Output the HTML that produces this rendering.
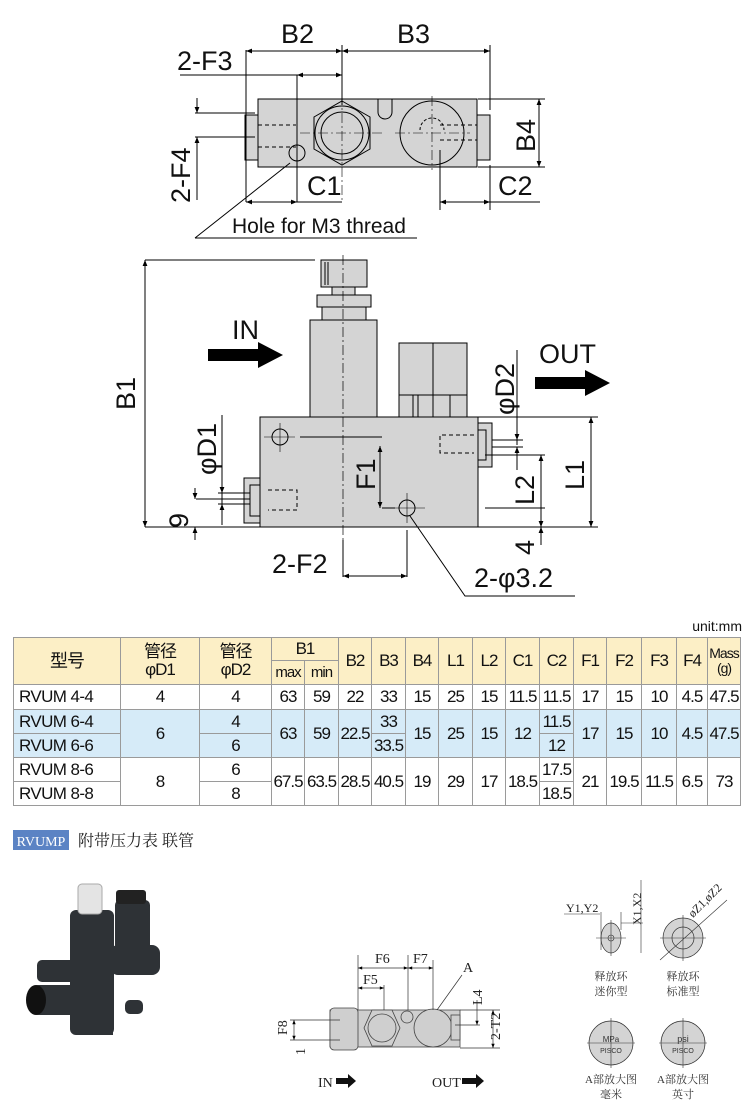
<!DOCTYPE html>
<html><head><meta charset="utf-8">
<style>
body{margin:0;width:750px;height:1106px;background:#fff;position:relative;overflow:hidden;font-family:"Liberation Sans","Noto Sans CJK SC",sans-serif;}
svg{position:absolute;left:0;top:0}
table{position:absolute;left:13px;top:637px;border-collapse:collapse;font-size:17px;table-layout:fixed;}
td{border:1px solid #9a9a9a;text-align:center;padding:0;line-height:1.05;letter-spacing:-1px;color:#111;white-space:nowrap;overflow:hidden}
tr.h td{background:#fcefc6}
tr.b td{background:#d6ebf8}
.l{text-align:left;padding-left:5px;letter-spacing:-0.6px}
</style></head><body>
<svg width="750" height="1106" viewBox="0 0 750 1106" font-family="Liberation Sans, sans-serif">
<defs>
<marker id="a" viewBox="0 0 10 10" refX="10" refY="5" markerWidth="8" markerHeight="6" orient="auto-start-reverse"><path d="M0,1 L10,5 L0,9 z" fill="#000"/></marker>
</defs>
<g stroke="#000" stroke-width="1" fill="none">
<rect x="258" y="99" width="219" height="68" fill="#d4d4d4"/>
<rect x="245" y="115" width="13" height="45" fill="#d4d4d4"/>
<rect x="477" y="115" width="13" height="45" fill="#d4d4d4"/>
<polygon points="342,101 370,117 370,149 342,165 314,149 314,117" fill="#d4d4d4"/>
<circle cx="342" cy="133" r="27" fill="#d4d4d4"/>
<circle cx="342" cy="133" r="21" fill="#d4d4d4"/>
<circle cx="432" cy="133" r="32" fill="#d4d4d4"/>
<path d="M420,130 A12,12 0 0 1 444,130" stroke-dasharray="3,2"/>
<path d="M378,99 L378,112 A7,7 0 0 0 392,112 L392,99"/>
<circle cx="297" cy="153" r="8" fill="#d4d4d4"/>
<path d="M258,125 H296 M258,147 H296" stroke-dasharray="4,3"/>
<path d="M440,125 H477 M440,140 H477" stroke-dasharray="4,3"/>
<path d="M342,95 V200 M300,133 H385 M432,96 V170 M395,133 H470" stroke-width="0.6" stroke-dasharray="10,3,2,3"/>
<path d="M246,50 V202 M342,45 V105 M490,45 V110 M297,75 V202 M440,150 V210 M490,165 V210"/>
<path d="M246,51 H342" marker-start="url(#a)" marker-end="url(#a)"/>
<path d="M342,51 H490" marker-start="url(#a)" marker-end="url(#a)"/>
<path d="M180,75 H342 M297,75 H342" /><path d="M322,75 H297" marker-end="url(#a)"/><path d="M320,75 H342" marker-end="url(#a)"/>
<path d="M195,113 H255 M195,137 H255"/>
<path d="M197,98 V113" marker-end="url(#a)"/><path d="M197,200 V137" marker-end="url(#a)"/>
<path d="M478,99 H545 M478,167 H545"/>
<path d="M539,99 V167" marker-start="url(#a)" marker-end="url(#a)"/>
<path d="M246,202 H297" marker-start="url(#a)" marker-end="url(#a)"/>
<path d="M440,202 H490" marker-start="url(#a)" marker-end="url(#a)"/>
<path d="M490,202 H540 M297,202 H342"/>
<path d="M195,238 L290,163 M195,238 H417"/>
<rect x="321" y="260" width="46" height="27" fill="#d4d4d4"/>
<path d="M325,262 V285 M328,262 V285"/>
<rect x="332" y="287" width="23" height="8" fill="#d4d4d4"/>
<rect x="317" y="295" width="54" height="12" fill="#d4d4d4"/>
<rect x="322" y="307" width="44" height="13" fill="#d4d4d4"/>
<rect x="310" y="320" width="67" height="97" fill="#d4d4d4"/>
<rect x="399" y="343" width="68" height="74" fill="#d4d4d4"/>
<path d="M399,395 H467 M413,395 V417 M418,395 V417 M450,395 V417 M433,343 V417"/>
<rect x="260" y="417" width="218" height="110" fill="#d4d4d4"/>
<rect x="244" y="478" width="16" height="45" fill="#d4d4d4"/>
<rect x="250" y="485" width="10" height="31" fill="#d4d4d4"/>
<rect x="478" y="423" width="14" height="44" fill="#d4d4d4"/>
<rect x="478" y="430" width="8" height="30" fill="#d4d4d4"/>
<path d="M268,490 H297 V510 H268" stroke-dasharray="4,3"/>
<path d="M474,435 H440 V453 H474" stroke-dasharray="4,3"/>
<circle cx="280" cy="437" r="8" fill="#d4d4d4"/>
<circle cx="407" cy="508" r="8" fill="#d4d4d4"/>
<path d="M343,255 V548" stroke-width="0.7" stroke-dasharray="10,3,2,3"/>
<path d="M264,437 H295 M280,423 V452 M392,508 H425 M407,493 V523" stroke-width="0.6"/>
<path d="M145,260 H315 M145,527 H250 M200,527 H260"/>
<path d="M145,260 V527" marker-start="url(#a)" marker-end="url(#a)"/>
<path d="M300,437 H382 M382,508 H395"/>
<path d="M380,446 V508" marker-start="url(#a)" marker-end="url(#a)"/>
<path d="M222,415 V525 M218,493 H250 M218,504 H250 M196,499 H250"/>
<path d="M222,477 V493" marker-end="url(#a)"/><path d="M222,520 V504" marker-end="url(#a)"/>
<path d="M195,488 V499" marker-end="url(#a)"/><path d="M195,540 V527" marker-end="url(#a)"/>
<path d="M492,440 H523 M492,447 H523 M517,350 V445 M517,453 V470"/>
<path d="M517,420 V440" marker-end="url(#a)"/><path d="M517,470 V447" marker-end="url(#a)"/>
<path d="M478,417 H598 M478,527 H598 M485,455 H545 M485,508 H545"/>
<path d="M591,417 V527" marker-start="url(#a)" marker-end="url(#a)"/>
<path d="M541,455 V527" marker-start="url(#a)" marker-end="url(#a)"/>
<path d="M541,545 V527" marker-end="url(#a)"/>
<path d="M343,577 V540 M407,530 V577"/>
<path d="M343,576 H407" marker-start="url(#a)" marker-end="url(#a)"/>
<path d="M410,516 L465,596 H575"/>
</g>
<g fill="#000" stroke="none">
<polygon points="208,349 258,349 258,342 283,355 258,368 258,361 208,361"/>
<polygon points="535,377 585,377 585,370 610,383 585,396 585,389 535,389"/>
</g>
<g font-size="27" fill="#111">
<text x="281" y="43">B2</text>
<text x="397" y="43">B3</text>
<text x="177" y="70">2-F3</text>
<text x="307" y="195">C1</text>
<text x="498" y="195">C2</text>
<text x="232" y="339">IN</text>
<text x="539" y="363">OUT</text>
<text x="272" y="573">2-F2</text>
<text x="474" y="587">2-φ3.2</text>
<text transform="translate(190,203) rotate(-90)">2-F4</text>
<text transform="translate(535,152) rotate(-90)">B4</text>
<text transform="translate(135,410) rotate(-90)">B1</text>
<text transform="translate(216,475) rotate(-90)">φD1</text>
<text transform="translate(188,528) rotate(-90)">9</text>
<text transform="translate(375,490) rotate(-90)">F1</text>
<text transform="translate(514,415) rotate(-90)">φD2</text>
<text transform="translate(534,505) rotate(-90)">L2</text>
<text transform="translate(584,490) rotate(-90)">L1</text>
<text transform="translate(534,555) rotate(-90)">4</text>
</g>
<text x="232" y="233" font-size="21" fill="#111">Hole for M3 thread</text>
<text x="742" y="631" font-size="14" text-anchor="end" fill="#111">unit:mm</text>
<rect x="13" y="830" width="56" height="20" fill="#5b83c4"/>
<text x="41" y="846" font-size="14" fill="#fff" text-anchor="middle" font-family="Liberation Serif, serif">RVUMP</text>
<text x="78" y="846" font-size="16" fill="#222" font-family="Liberation Serif, Noto Serif CJK SC, serif">附带压力表 联管</text>
<g fill="#2e3236">
<rect x="70" y="910" width="44" height="125" rx="6"/>
<rect x="37" y="960" width="58" height="22" rx="5"/>
<rect x="29" y="985" width="60" height="30" rx="10"/>
<rect x="115" y="900" width="35" height="50" rx="5"/>
<rect x="110" y="945" width="50" height="30" rx="8"/>
<rect x="88" y="1000" width="25" height="35"/>
<rect x="125" y="1000" width="18" height="14" rx="5"/>
</g>
<ellipse cx="36" cy="1000" rx="10" ry="15" fill="#111"/>
<rect x="78" y="884" width="24" height="30" rx="4" fill="#e4e4e4" stroke="#aaa"/>
<rect x="116" y="890" width="30" height="14" rx="3" fill="#222"/>
<g stroke="#444" stroke-width="0.8" fill="#cfcfcf">
<rect x="330" y="1010" width="130" height="37"/>
<rect x="330" y="1008" width="28" height="42" rx="4"/>
<polygon points="372,1010 392,1010 400,1028 392,1046 372,1046 364,1028"/>
<circle cx="382" cy="1028" r="14"/>
<circle cx="407" cy="1017" r="6"/>
<circle cx="433" cy="1028" r="19"/>
<rect x="451" y="1015" width="9" height="25"/>
</g>
<g stroke="#333" stroke-width="0.7" fill="none">
<path d="M290,1020 H340 M290,1040 H340 M358,955 V1010 M384,985 V1010 M408,955 V1010 M433,960 V1010 M460,1010 H500 M460,1048 H500 M455,1025 H480"/>
<path d="M358,968 H408" marker-start="url(#a)" marker-end="url(#a)"/>
<path d="M408,968 H433" marker-start="url(#a)" marker-end="url(#a)"/>
<path d="M358,988 H384" marker-start="url(#a)" marker-end="url(#a)"/>
<path d="M294,1020 V1040" marker-start="url(#a)" marker-end="url(#a)"/>
<path d="M493,1010 V1048" marker-start="url(#a)" marker-end="url(#a)"/>
<path d="M477,1000 V1025" marker-end="url(#a)"/>
<path d="M437,1010 L462,975"/>
</g>
<g font-size="14" fill="#222" font-family="Liberation Serif, serif">
<text x="375" y="963">F6</text><text x="413" y="963">F7</text><text x="363" y="984">F5</text>
<text x="463" y="972">A</text>
<text transform="translate(287,1035) rotate(-90)">F8</text>
<text transform="translate(305,1055) rotate(-90)">1</text>
<text transform="translate(482,1005) rotate(-90)">L4</text>
<text transform="translate(500,1040) rotate(-90)">2-T2</text>
<text x="318" y="1087">IN</text><text x="432" y="1087">OUT</text>
<text x="566" y="912" font-size="12">Y1,Y2</text>
<text transform="translate(641,925) rotate(-90)" font-size="12">X1,X2</text>
<text transform="translate(693,918) rotate(-45)" font-size="12">øZ1,øZ2</text>
</g>
<g fill="#111"><polygon points="336,1078 348,1078 348,1074 356,1081 348,1088 348,1084 336,1084"/><polygon points="462,1078 476,1078 476,1074 484,1081 476,1088 476,1084 462,1084"/></g>
<g stroke="#333" stroke-width="0.7" fill="#d4d4d4">
<ellipse cx="611" cy="938" rx="10" ry="15"/>
<circle cx="683" cy="938" r="20"/>
<circle cx="683" cy="938" r="11"/>
<circle cx="611" cy="1043" r="22"/>
<circle cx="683" cy="1043" r="22"/>
</g>
<g stroke="#333" stroke-width="0.6" fill="none">
<circle cx="611" cy="938" r="3"/>
<path d="M564,914 H600 M601,912 V950 M621,912 V930 M621,923 H643 M641,880 V953 M660,960 L727,900 M596,938 H626 M611,920 V956 M660,938 H706 M683,915 V961 M587,1043 H635 M611,1018 V1068 M659,1043 H707 M683,1018 V1068"/>
</g>
<g font-size="11" fill="#333" text-anchor="middle" font-family="Liberation Serif, Noto Serif CJK SC, serif">
<text x="611" y="980">释放环</text><text x="611" y="995">迷你型</text>
<text x="683" y="980">释放环</text><text x="683" y="995">标准型</text>
<text x="611" y="1083">A部放大图</text><text x="611" y="1098">毫米</text>
<text x="683" y="1083">A部放大图</text><text x="683" y="1098">英寸</text>
<text x="611" y="1042" font-size="8" font-family="Liberation Sans">MPa</text><text x="611" y="1053" font-size="7" font-family="Liberation Sans">PISCO</text>
<text x="683" y="1042" font-size="9" font-family="Liberation Sans">psi</text><text x="683" y="1053" font-size="7" font-family="Liberation Sans">PISCO</text>
</g>
</svg>
<table>
<colgroup><col style="width:107px"><col style="width:79px"><col style="width:72px"><col style="width:33px"><col style="width:34px"><col style="width:33px"><col style="width:34px"><col style="width:33px"><col style="width:34px"><col style="width:33px"><col style="width:34px"><col style="width:34px"><col style="width:33px"><col style="width:35px"><col style="width:35px"><col style="width:31px"><col style="width:33px"></colgroup>
<tr class="h" style="height:23px"><td rowspan="2" style="font-size:18px">型号</td><td rowspan="2">管径<br>φD1</td><td rowspan="2">管径<br>φD2</td><td colspan="2">B1</td><td rowspan="2">B2</td><td rowspan="2">B3</td><td rowspan="2">B4</td><td rowspan="2">L1</td><td rowspan="2">L2</td><td rowspan="2">C1</td><td rowspan="2">C2</td><td rowspan="2">F1</td><td rowspan="2">F2</td><td rowspan="2">F3</td><td rowspan="2">F4</td><td rowspan="2" style="font-size:14px">Mass<br>(g)</td></tr>
<tr class="h" style="height:24px"><td style="font-size:15px">max</td><td style="font-size:15px">min</td></tr>
<tr style="height:25px"><td class="l">RVUM 4-4</td><td>4</td><td>4</td><td>63</td><td>59</td><td>22</td><td>33</td><td>15</td><td>25</td><td>15</td><td>11.5</td><td>11.5</td><td>17</td><td>15</td><td>10</td><td>4.5</td><td>47.5</td></tr>
<tr class="b" style="height:24px"><td class="l">RVUM 6-4</td><td rowspan="2">6</td><td>4</td><td rowspan="2">63</td><td rowspan="2">59</td><td rowspan="2">22.5</td><td>33</td><td rowspan="2">15</td><td rowspan="2">25</td><td rowspan="2">15</td><td rowspan="2">12</td><td>11.5</td><td rowspan="2">17</td><td rowspan="2">15</td><td rowspan="2">10</td><td rowspan="2">4.5</td><td rowspan="2">47.5</td></tr>
<tr class="b" style="height:24px"><td class="l">RVUM 6-6</td><td>6</td><td>33.5</td><td>12</td></tr>
<tr style="height:24px"><td class="l">RVUM 8-6</td><td rowspan="2">8</td><td>6</td><td rowspan="2">67.5</td><td rowspan="2">63.5</td><td rowspan="2">28.5</td><td rowspan="2">40.5</td><td rowspan="2">19</td><td rowspan="2">29</td><td rowspan="2">17</td><td rowspan="2">18.5</td><td>17.5</td><td rowspan="2">21</td><td rowspan="2">19.5</td><td rowspan="2">11.5</td><td rowspan="2">6.5</td><td rowspan="2">73</td></tr>
<tr style="height:24px"><td class="l">RVUM 8-8</td><td>8</td><td>18.5</td></tr>
</table>
</body></html>
